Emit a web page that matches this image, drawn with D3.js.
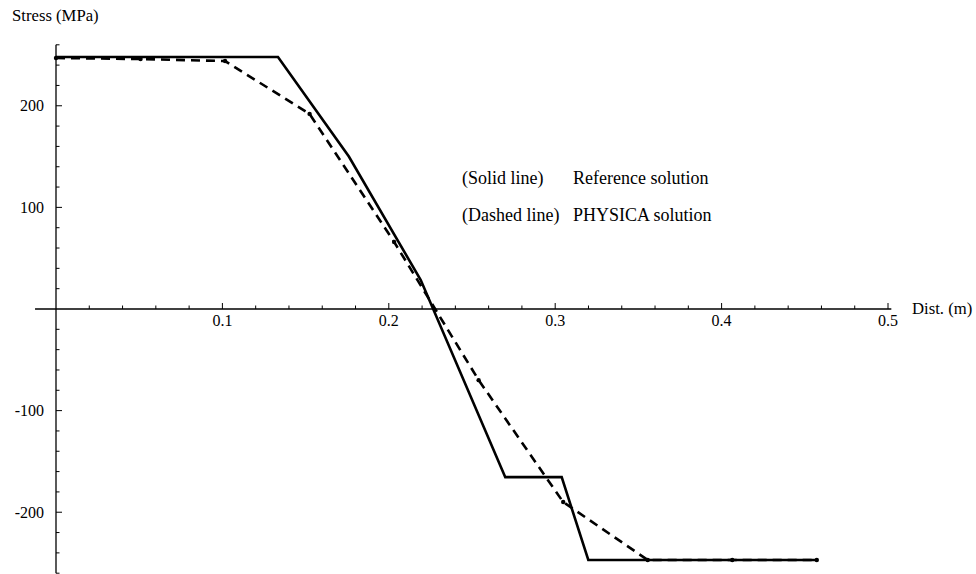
<!DOCTYPE html>
<html><head><meta charset="utf-8">
<script src="https://cdn.jsdelivr.net/npm/d3@7"></script>
<style>body{margin:0;background:#fff}svg{display:block}text{font-family:"Liberation Serif","Times New Roman",serif;fill:#000}</style>
</head><body>
<svg id="c" width="976" height="574"></svg>
<script>
const solidX = [0, 0.1334, 0.176, 0.2192, 0.27, 0.3039, 0.3199, 0.4572];
const solidY = [248, 248, 150, 28.5, -165.5, -165.5, -247, -247];
const dashedX = [0, 0.0508, 0.1016, 0.1524, 0.2032, 0.254, 0.3048, 0.3556, 0.4064, 0.4572];
const dashedY = [247, 246, 244, 192, 66, -70, -190, -247, -247, -247];
const xTickLabels = [0.1, 0.2, 0.3, 0.4, 0.5];
const yTickLabels = [-200, -100, 100, 200];
const legendKeys = ["(Solid line)", "(Dashed line)"];
const legendNames = ["Reference solution", "PHYSICA solution"];

const svg = d3.select("#c");
const x = d3.scaleLinear().domain([0, 0.5]).range([56, 888]);
const y = d3.scaleLinear().domain([-260, 260]).range([573.2, 44.8]);
const y0 = y(0), x0 = x(0);

// axes lines
svg.append("line").attr("x1", x(-0.0126)).attr("x2", x(0.502)).attr("y1", y0).attr("y2", y0)
  .attr("stroke", "#000").attr("stroke-width", 1.3);
svg.append("line").attr("x1", x0).attr("x2", x0).attr("y1", y(260)).attr("y2", y(-260))
  .attr("stroke", "#000").attr("stroke-width", 1.3);

// x ticks
const xMinor = d3.range(1, 26).map(i => i * 0.02);
svg.append("g").selectAll("line").data(xMinor).join("line")
  .attr("x1", d => x(d)).attr("x2", d => x(d))
  .attr("y1", y0).attr("y2", d => {
    const major = Math.abs(d * 10 - Math.round(d * 10)) < 1e-6;
    return y0 - (major ? 6 : 3.5);
  })
  .attr("stroke", "#000").attr("stroke-width", 1);
svg.append("g").selectAll("text").data(xTickLabels).join("text")
  .attr("x", d => x(d)).attr("y", y0 + 16.5).attr("text-anchor", "middle")
  .attr("font-size", 16).text(d => d3.format(".1f")(d));

// y ticks
const yMinor = d3.range(-13, 14).filter(i => i !== 0).map(i => i * 20);
svg.append("g").selectAll("line").data(yMinor).join("line")
  .attr("x1", x0).attr("x2", d => x0 + (d % 100 === 0 ? 6 : 3.5))
  .attr("y1", d => y(d)).attr("y2", d => y(d))
  .attr("stroke", "#000").attr("stroke-width", 1);
svg.append("g").selectAll("text").data(yTickLabels).join("text")
  .attr("x", 44).attr("y", d => y(d) + 5.5).attr("text-anchor", "end")
  .attr("font-size", 16).text(d => String(d));

// axis titles
svg.append("text").attr("x", 12).attr("y", 21).attr("font-size", 16.7).text("Stress (MPa)");
svg.append("text").attr("x", 912).attr("y", y0 + 4.5).attr("font-size", 16.7).text("Dist. (m)");

// lines
const line = d3.line().x(d => x(d[0])).y(d => y(d[1]));
const solid = solidX.map((v, i) => [v, solidY[i]]);
const dashed = dashedX.map((v, i) => [v, dashedY[i]]);
svg.append("path").attr("d", line(dashed)).attr("fill", "none").attr("stroke", "#000")
  .attr("stroke-width", 2.6).attr("stroke-dasharray", "9,6");
svg.append("path").attr("d", line(solid)).attr("fill", "none").attr("stroke", "#000")
  .attr("stroke-width", 2.6).attr("stroke-linejoin", "miter");
svg.append("g").selectAll("circle").data(dashed).join("circle")
  .attr("cx", d => x(d[0])).attr("cy", d => y(d[1])).attr("r", 2.2).attr("fill", "#000");

// legend
const ly = [183.5, 220.5];
svg.append("g").selectAll("text").data(legendKeys).join("text")
  .attr("x", 462).attr("y", (d, i) => ly[i]).attr("font-size", 18).text(d => d);
svg.append("g").selectAll("text").data(legendNames).join("text")
  .attr("x", 573).attr("y", (d, i) => ly[i]).attr("font-size", 18).text(d => d);
</script>
</body></html>
